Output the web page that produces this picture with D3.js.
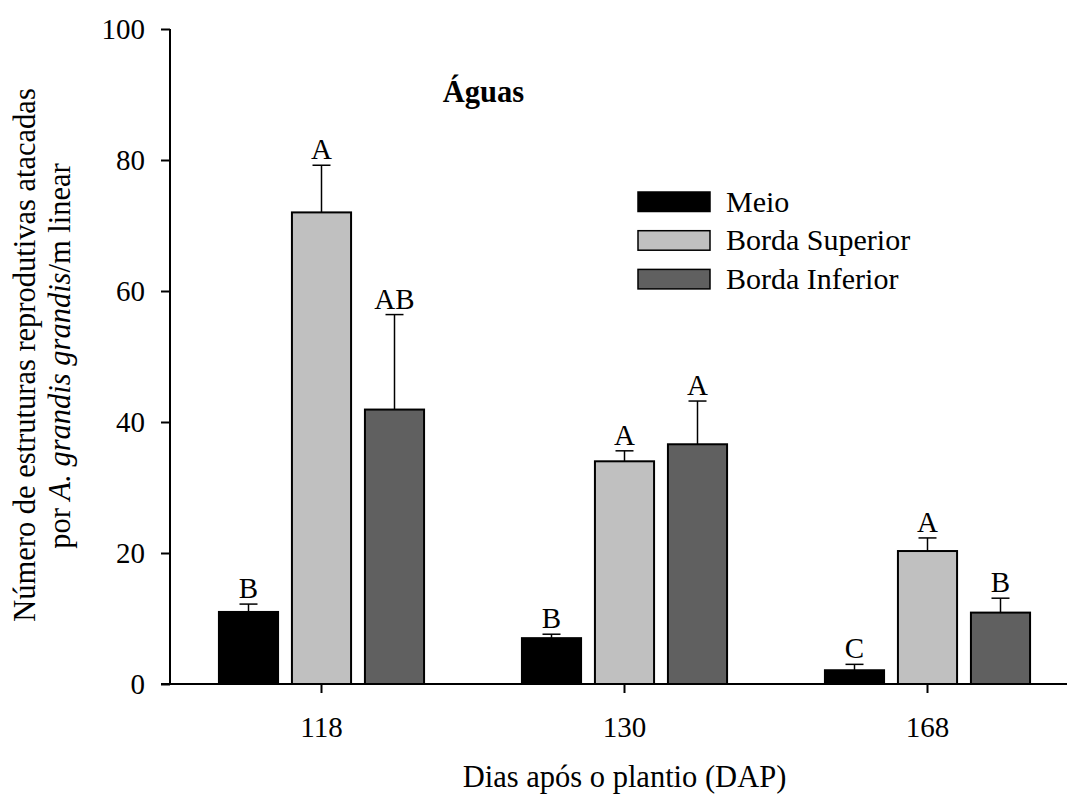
<!DOCTYPE html>
<html>
<head>
<meta charset="utf-8">
<script src="https://cdn.jsdelivr.net/npm/d3@7"></script>
<style>
  html, body { margin: 0; padding: 0; background: #fff; }
  svg { display: block; font-family: "Liberation Serif", "Times New Roman", serif; }
</style>
</head>
<body>
<svg id="chart" width="1067" height="798"></svg>
<script>
const categories = ["118", "130", "168"];
const seriesNames = ["Meio", "Borda Superior", "Borda Inferior"];
const seriesColors = ["#000000", "#c0c0c0", "#606060"];
const meioValues = [11.0, 7.0, 2.1];
const meioErrors = [1.2, 0.6, 0.9];
const meioLetters = ["B", "B", "C"];
const superiorValues = [72.0, 34.0, 20.3];
const superiorErrors = [7.2, 1.6, 2.0];
const superiorLetters = ["A", "A", "A"];
const inferiorValues = [41.9, 36.6, 10.9];
const inferiorErrors = [14.5, 6.6, 2.2];
const inferiorLetters = ["AB", "A", "B"];
const yTicks = [0, 20, 40, 60, 80, 100];

const seriesData = [
  { name: seriesNames[0], color: seriesColors[0], values: meioValues, errors: meioErrors, letters: meioLetters },
  { name: seriesNames[1], color: seriesColors[1], values: superiorValues, errors: superiorErrors, letters: superiorLetters },
  { name: seriesNames[2], color: seriesColors[2], values: inferiorValues, errors: inferiorErrors, letters: inferiorLetters }
];

const svg = d3.select("#chart");
const TICK_FS = 29;
const TEXT_FS = 30;
const TITLE_FS = 30.5;

const y = d3.scaleLinear().domain([0, 100]).range([684, 29]);
const x0 = d3.scaleBand().domain(categories).range([170, 1079]).paddingInner(0).paddingOuter(0);
const x1 = d3.scaleBand().domain(seriesNames).range([-109.5, 109.5]).paddingInner(0.19).paddingOuter(0.095);
const cx = c => x0(c) + x0.bandwidth() / 2;

const cells = [];
seriesData.forEach(s => categories.forEach((c, i) => cells.push({ s, c, v: s.values[i], e: s.errors[i], l: s.letters[i] })));
const bx = d => cx(d.c) + x1(d.s.name) + x1.bandwidth() / 2;

const g = svg.append("g");
g.selectAll("line.err").data(cells).enter().append("line")
  .attr("x1", bx).attr("x2", bx)
  .attr("y1", d => y(d.v))
  .attr("y2", d => y(d.v + d.e))
  .attr("stroke", "#000").attr("stroke-width", 1.5);
g.selectAll("line.cap").data(cells).enter().append("line")
  .attr("x1", d => bx(d) - 9)
  .attr("x2", d => bx(d) + 9)
  .attr("y1", d => y(d.v + d.e))
  .attr("y2", d => y(d.v + d.e))
  .attr("stroke", "#000").attr("stroke-width", 1.5);
g.selectAll("rect.bar").data(cells).enter().append("rect")
  .attr("x", d => cx(d.c) + x1(d.s.name))
  .attr("width", x1.bandwidth())
  .attr("y", d => y(d.v))
  .attr("height", d => y(0) - y(d.v))
  .attr("fill", d => d.s.color)
  .attr("stroke", "#000").attr("stroke-width", 2);
g.selectAll("text.letter").data(cells).enter().append("text")
  .attr("x", bx)
  .attr("y", d => y(d.v + d.e) - 6)
  .attr("text-anchor", "middle")
  .attr("font-size", TICK_FS)
  .text(d => d.l);

// Axes
const yAxis = d3.axisLeft(y).tickValues(yTicks).tickSize(9).tickPadding(16);
const ya = svg.append("g").attr("transform", "translate(170,0)").call(yAxis);
ya.select(".domain").remove();
ya.append("line").attr("x1", 0).attr("x2", 0).attr("y1", y(100)).attr("y2", y(0)).attr("stroke", "#000").attr("stroke-width", 2);
ya.selectAll(".tick line").attr("stroke", "#000").attr("stroke-width", 2);
ya.selectAll(".tick text").attr("font-size", TICK_FS).attr("font-family", "Liberation Serif").attr("fill", "#000");

const xAxis = d3.axisBottom(x0).tickSize(9).tickPadding(23);
const xa = svg.append("g").attr("transform", `translate(0,${y(0)})`).call(xAxis);
xa.select(".domain").remove();
xa.append("line").attr("x1", 161).attr("x2", 1079).attr("y1", 0).attr("y2", 0).attr("stroke", "#000").attr("stroke-width", 2);
xa.selectAll(".tick line").attr("stroke", "#000").attr("stroke-width", 2);
xa.selectAll(".tick text").attr("font-size", TICK_FS).attr("font-family", "Liberation Serif").attr("fill", "#000");

// Axis titles
svg.append("text").attr("x", 624.5).attr("y", 787).attr("text-anchor", "middle").attr("font-size", TITLE_FS).text("Dias após o plantio (DAP)");

const yl = svg.append("text").attr("transform", "translate(35,355) rotate(-90)").attr("text-anchor", "middle").attr("font-size", TITLE_FS);
yl.append("tspan").text("Número de estruturas reprodutivas atacadas");
const yl2 = svg.append("text").attr("transform", "translate(70,356) rotate(-90)").attr("text-anchor", "middle").attr("font-size", TITLE_FS);
yl2.append("tspan").text("por ");
yl2.append("tspan").attr("font-style", "italic").text("A. grandis grandis");
yl2.append("tspan").text("/m linear");

// Title
svg.append("text").attr("x", 483.5).attr("y", 102).attr("text-anchor", "middle").attr("font-size", TITLE_FS).attr("font-weight", "bold").text("Águas");

// Legend
const lg = svg.append("g").selectAll("g").data(seriesData).enter().append("g")
  .attr("transform", (d, i) => `translate(638,${192 + i * 38.7})`);
lg.append("rect").attr("width", 72).attr("height", 19.5).attr("fill", d => d.color).attr("stroke", "#000").attr("stroke-width", 1.5);
lg.append("text").attr("x", 88).attr("y", 19.5).attr("font-size", TEXT_FS).text(d => d.name);
</script>
</body>
</html>
